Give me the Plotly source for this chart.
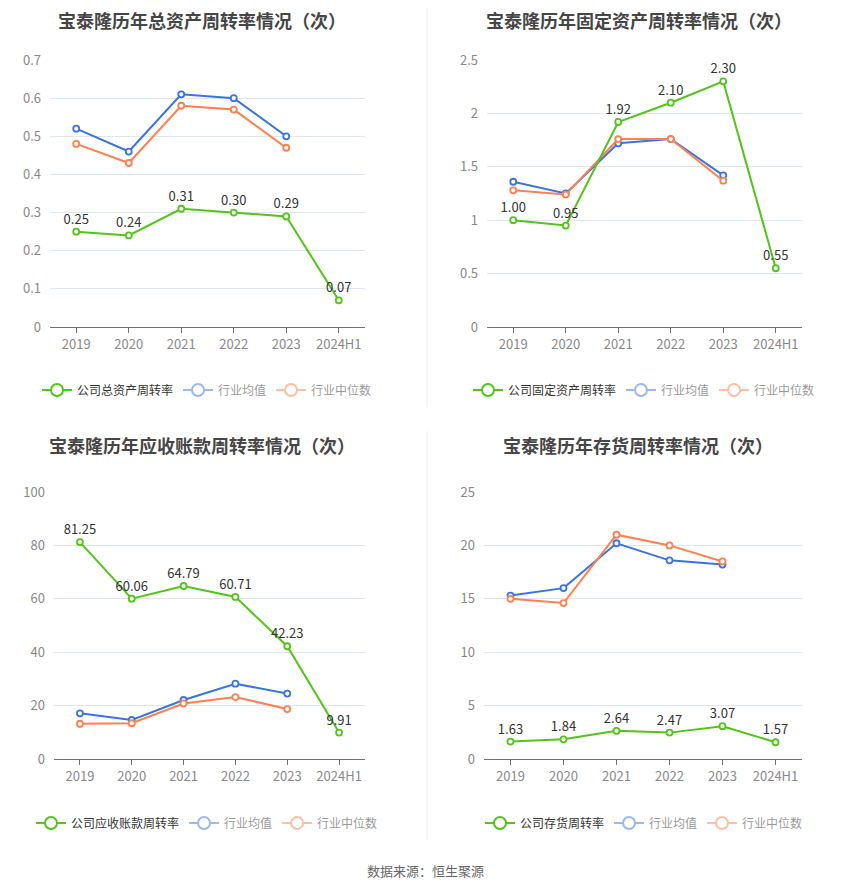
import plotly.graph_objects as go

W, H = 850, 891
OFF = 8  # page body margin shifts the figure, compensate

years = ["2019", "2020", "2021", "2022", "2023", "2024H1"]
ind_years = years[:5]

# 总资产周转率
total_company = [0.25, 0.24, 0.31, 0.30, 0.29, 0.07]
total_mean = [0.52, 0.46, 0.61, 0.60, 0.50]
total_median = [0.48, 0.43, 0.58, 0.57, 0.47]

# 固定资产周转率
fixed_company = [1.00, 0.95, 1.92, 2.10, 2.30, 0.55]
fixed_mean = [1.36, 1.25, 1.72, 1.76, 1.42]
fixed_median = [1.28, 1.24, 1.76, 1.76, 1.37]

# 应收账款周转率
recv_company = [81.25, 60.06, 64.79, 60.71, 42.23, 9.91]
recv_mean = [17.1, 14.6, 22.1, 28.2, 24.5]
recv_median = [13.2, 13.4, 20.8, 23.2, 18.7]

# 存货周转率
inv_company = [1.63, 1.84, 2.64, 2.47, 3.07, 1.57]
inv_mean = [15.3, 16.0, 20.2, 18.6, 18.2]
inv_median = [15.0, 14.6, 21.0, 20.0, 18.5]

GREEN = "#52c41a"
BLUE = "#3a74e0"
ORANGE = "#ff7f50"
FONT = "Noto Sans CJK SC"


def px(x):
    return (x - OFF) / W


def py(y):
    return 1 - (y - OFF) / H


panels = [
    dict(title="宝泰隆历年总资产周转率情况（次）", name="公司总资产周转率",
         company=total_company, mean=total_mean, median=total_median,
         x=(50, 365), y=(60, 327), rng=[0, 0.7], dtick=0.1,
         tx=202, ty=20, ly=390, lx=207),
    dict(title="宝泰隆历年固定资产周转率情况（次）", name="公司固定资产周转率",
         company=fixed_company, mean=fixed_mean, median=fixed_median,
         x=(487, 802), y=(60, 327), rng=[0, 2.5], dtick=0.5,
         tx=639, ty=20, ly=390, lx=644),
    dict(title="宝泰隆历年应收账款周转率情况（次）", name="公司应收账款周转率",
         company=recv_company, mean=recv_mean, median=recv_median,
         x=(54, 365), y=(492, 759), rng=[0, 100], dtick=20,
         tx=202, ty=445, ly=823, lx=207),
    dict(title="宝泰隆历年存货周转率情况（次）", name="公司存货周转率",
         company=inv_company, mean=inv_mean, median=inv_median,
         x=(484, 802), y=(492, 759), rng=[0, 25], dtick=5,
         tx=638, ty=445, ly=823, lx=644),
]

fig = go.Figure()
annotations = []
layout = {}

for i, p in enumerate(panels):
    n = "" if i == 0 else str(i + 1)
    xa, ya = "x" + n, "y" + n
    leg = "legend" + n

    def line_trace(xs, ys, color, text=None):
        return go.Scatter(
            x=xs, y=ys, xaxis=xa, yaxis=ya,
            mode="lines+markers+text" if text else "lines+markers",
            line=dict(color=color, width=2),
            marker=dict(symbol="circle", size=6, color="white",
                        line=dict(color=color, width=1.8)),
            text=text, textposition="top center",
            textfont=dict(size=13, color="#333", family=FONT),
            showlegend=False, cliponaxis=False, hoverinfo="x+y",
        )

    fig.add_trace(line_trace(ind_years, p["mean"], BLUE))
    fig.add_trace(line_trace(ind_years, p["median"], ORANGE))
    fig.add_trace(line_trace(years, p["company"], GREEN,
                             text=[f"{v:.2f}" for v in p["company"]]))

    # legend entries (industry ones drawn faded like the original)
    for nm, col, vis in [(p["name"], GREEN, True),
                         ("行业均值", BLUE, "legendonly"),
                         ("行业中位数", ORANGE, "legendonly")]:
        fig.add_trace(go.Scatter(
            x=[None], y=[None], xaxis=xa, yaxis=ya, name=nm, legend=leg,
            mode="lines+markers", visible=vis,
            line=dict(color=col, width=2),
            marker=dict(symbol="circle", size=12, color="white",
                        line=dict(color=col, width=2)),
        ))

    layout["xaxis" + n] = dict(
        domain=[px(p["x"][0]), px(p["x"][1])], anchor=ya,
        type="category", categoryorder="array", categoryarray=years,
        range=[-0.5, 5.5], showgrid=False, showline=True,
        linecolor="#6e7079", linewidth=1, ticks="outside", ticklen=5,
        tickcolor="#6e7079", tickfont=dict(size=13, color="#888", family=FONT),
        fixedrange=True, automargin=False,
    )
    layout["yaxis" + n] = dict(
        domain=[py(p["y"][1]), py(p["y"][0])], anchor=xa,
        range=p["rng"], dtick=p["dtick"], showgrid=True, gridcolor="#e0e6f1",
        zeroline=False, showline=False,
        tickfont=dict(size=13, color="#888", family=FONT), ticks="",
        ticklabelstandoff=8, fixedrange=True, automargin=False,
    )
    layout[leg] = dict(
        orientation="h", x=px(p["lx"]), xanchor="center",
        y=py(p["ly"]), yanchor="middle",
        font=dict(size=12, color="#333", family=FONT),
        itemclick=False, itemdoubleclick=False, bgcolor="rgba(0,0,0,0)",
        itemwidth=30, tracegroupgap=0,
    )
    annotations.append(dict(
        text="<b>" + p["title"] + "</b>", x=px(p["tx"]), y=py(p["ty"]),
        xref="paper", yref="paper", showarrow=False,
        xanchor="center", yanchor="middle",
        font=dict(size=18, color="#464646", family=FONT),
    ))

annotations.append(dict(
    text="数据来源：恒生聚源", x=px(425), y=py(870), xref="paper", yref="paper",
    showarrow=False, xanchor="center", yanchor="middle",
    font=dict(size=13, color="#666", family=FONT),
))

shapes = [
    dict(type="line", xref="paper", yref="paper", x0=px(427), x1=px(427),
         y0=1, y1=py(407), line=dict(color="#eeeeee", width=1)),
    dict(type="line", xref="paper", yref="paper", x0=px(427), x1=px(427),
         y0=py(431), y1=py(840), line=dict(color="#eeeeee", width=1)),
]

fig.update_layout(
    width=W, height=H, margin=dict(l=0, r=0, t=0, b=0, autoexpand=False),
    paper_bgcolor="white", plot_bgcolor="white",
    annotations=annotations, shapes=shapes,
    font=dict(family=FONT), **layout,
)

fig.write_html("out.html")
